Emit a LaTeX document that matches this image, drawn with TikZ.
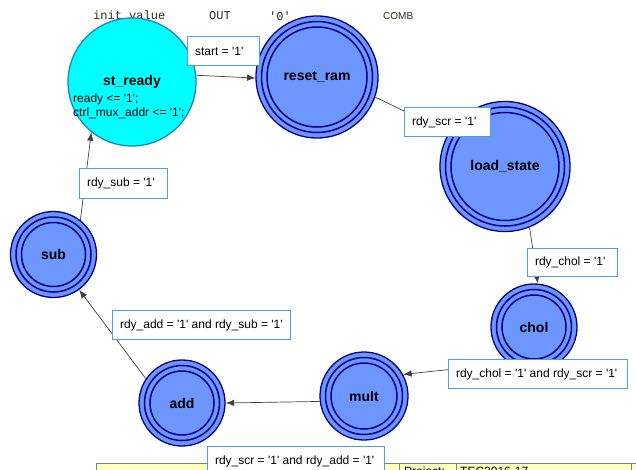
\documentclass[tikz,border=0pt]{standalone}
\usepackage{fontspec}
\setmainfont{Liberation Sans}
\newfontfamily\hdrmono{Liberation Mono}
\usetikzlibrary{arrows.meta}

\definecolor{statefill}{RGB}{110,150,255}
\definecolor{ringnavy}{RGB}{0,0,140}
\definecolor{readyfill}{RGB}{0,255,255}
\definecolor{readyedge}{RGB}{30,130,200}
\definecolor{lbledge}{RGB}{70,165,225}
\definecolor{stripfill}{RGB}{255,255,192}
\definecolor{hdrtext}{RGB}{50,40,30}

% straight single quote
\newcommand\q{\textquotesingle}
% state bubble with two inner rings: name, x, y, radius, text
\newcommand\fsmstate[5]{%
  \node[fsm, minimum size=2*#4pt] (#1) at (#2,#3) {#5};
  \draw[ring] (#1.center) circle[radius=#4pt-5.5pt];
  \draw[ring] (#1.center) circle[radius=#4pt-11pt];
}

\begin{document}
\begin{tikzpicture}[x=1pt,y=-1pt,
  fsm/.style={circle, draw=ringnavy, line width=1.3pt, fill=statefill,
    inner sep=0pt, font=\fontsize{14}{16}\selectfont\bfseries},
  ring/.style={draw=ringnavy, line width=1.5pt},
  initstate/.style={circle, draw=readyedge, line width=1.3pt, fill=readyfill,
    inner sep=0pt, minimum size=128pt, font=\fontsize{14}{16}\selectfont\bfseries},
  lbl/.style={draw=lbledge, line width=1.1pt, fill=white, inner xsep=7.5pt,
    inner ysep=0pt, minimum height=29pt, anchor=north west,
    font=\fontsize{12}{14}\selectfont},
  trans/.style={draw=black!75, line width=0.7pt, -{Latex[length=8.5pt,width=6.5pt]}},
  hdr/.style={font=\hdrmono\fontsize{12}{14}\selectfont, text=hdrtext,
    inner sep=0pt, anchor=west},
  actions/.style={font=\fontsize{12}{14.3}\selectfont, align=left,
    inner sep=0pt, anchor=north west},
]
\useasboundingbox (0,0) rectangle (636,469);

% header row
\node[hdr] (hinit) at (93,16) {init\_value};
\node[hdr] (hout) at (209,16) {OUT};
\node[hdr] (hzero) at (269,16) {\q0\q};
\node[hdr, font=\fontsize{10}{12}\selectfont] (hcomb) at (383,16) {COMB};

% title block strip along the bottom edge
\fill[stripfill] (96,463) rectangle (640,480);
\draw[gray, line width=0.8pt] (96,480) -- (96,463) -- (640,463);
\draw[gray, line width=0.8pt] (399,463) -- (399,480) (456,463) -- (456,480)
  (631,463) -- (631,480);
\node[anchor=base west, inner sep=0pt, font=\fontsize{12}{14}\selectfont]
  (tproj) at (404,475.5) {Project:};
\node[anchor=base west, inner sep=0pt, font=\fontsize{12}{14}\selectfont]
  (tname) at (460,475.5) {TEC2016-17};

% states
\node[initstate] (ready) at (132,82) {st\_ready};
\node[actions] (readyact) at (73,93.5) {ready <= \q1\q;\\ctrl\_mux\_addr <= \q1\q;};
\fsmstate{reset}{317}{77}{61}{reset\_ram}
\fsmstate{load}{505}{166.5}{65}{load\_state}
\fsmstate{chol}{534}{327}{43}{chol}
\fsmstate{mult}{364}{396}{44}{mult}
\fsmstate{add}{182}{403}{43}{add}
\fsmstate{sub}{53.5}{254.5}{43}{sub}

% transitions
\draw[trans] (ready.6) -- (reset.181);
\draw[trans] (reset.341) -- (load.149);
\draw[trans] (load.292) -- (chol.85);
\draw[trans] (chol.236) -- (mult.29);
\draw[trans] (mult.187) -- (add.0);
\draw[trans] (add.146) -- (sub.306);
\draw[trans] (sub.52) -- (ready.231);

% transition conditions
\node[lbl] (cstart) at (187,36) {\makebox[57pt][l]{start = \q1\q}};
\node[lbl] (cscr) at (404,107) {\makebox[71pt][l]{rdy\_scr = \q1\q}};
\node[lbl, minimum height=28pt] (cchol) at (527,248) {\makebox[75pt][l]{rdy\_chol = \q1\q}};
\node[lbl] (ccholscr) at (448,359) {\makebox[164pt][l]{rdy\_chol = \q1\q{} and rdy\_scr = \q1\q}};
\node[lbl] (cscradd) at (207,446) {\makebox[162pt][l]{rdy\_scr = \q1\q{} and rdy\_add = \q1\q}};
\node[lbl] (caddsub) at (112,310) {\makebox[163pt][l]{rdy\_add = \q1\q{} and rdy\_sub = \q1\q}};
\node[lbl, minimum height=30pt] (csub) at (79,168) {\makebox[73pt][l]{rdy\_sub = \q1\q}};
\end{tikzpicture}
\end{document}
